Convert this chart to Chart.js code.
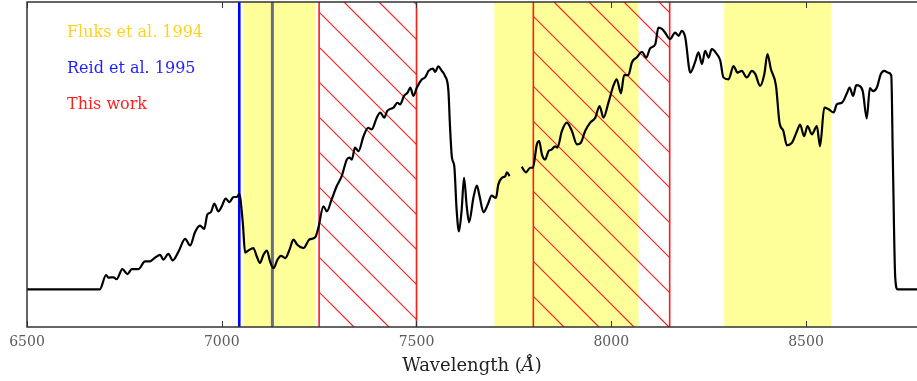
<!DOCTYPE html>
<html>
<head>
<meta charset="utf-8">
<script src="https://cdn.jsdelivr.net/npm/chart.js@4.4.1/dist/chart.umd.min.js"></script>
<style>
  body { margin: 0; background: #fff; }
  canvas { display: block; }
</style>
</head>
<body>
<canvas id="spectrumChart" width="917" height="381"></canvas>
<script>
// spectrum (null = gap in the data)
const wavelength = [
  6500, 6687, 6703, 6709, 6722, 6730, 6745, 6758, 6769, 6786,
  6803, 6816, 6824, 6833, 6842, 6850, 6863, 6874, 6889, 6906,
  6919, 6931, 6944, 6955, 6963, 6972, 6981, 6991, 7000, 7010,
  7020, 7030, 7039, 7045, 7054, 7060, 7068, 7081, 7090, 7098,
  7107, 7116, 7124, 7133, 7143, 7152, 7163, 7174, 7184, 7194,
  7210, 7225, 7240, 7248, 7261, 7270, 7282, 7295, 7308, 7321,
  7328, 7334, 7342, 7351, 7364, 7376, 7385, 7398, 7407, 7417,
  7425, 7441, 7451, 7458, 7468, 7477, 7484, 7492, 7501, 7514,
  7522, 7531, 7542, 7548, 7556, 7565, 7573, 7582, 7586, 7591,
  7597, 7603, 7609, 7616, 7622, 7629, 7635, 7646, 7655, 7662,
  7672, 7683, 7693, 7704, 7710, 7719, 7728, 7732, 7739, 7755,
  7770, 7781, 7792, 7799, 7809, 7815, 7822, 7830, 7839, 7847,
  7856, 7862, 7873, 7886, 7899, 7912, 7922, 7933, 7946, 7959,
  7970, 7980, 7993, 8006, 8014, 8025, 8033, 8044, 8053, 8066,
  8079, 8090, 8100, 8113, 8121, 8130, 8138, 8151, 8164, 8173,
  8181, 8190, 8203, 8215, 8224, 8233, 8241, 8250, 8258, 8271,
  8280, 8288, 8301, 8314, 8324, 8335, 8348, 8361, 8370, 8382,
  8393, 8401, 8410, 8423, 8432, 8442, 8451, 8464, 8477, 8485,
  8495, 8504, 8515, 8528, 8536, 8547, 8558, 8571, 8579, 8592,
  8605, 8612, 8621, 8629, 8637, 8646, 8656, 8664, 8672, 8682,
  8692, 8701, 8712, 8719, 8723, 8729, 8735, 8785
];
const flux = [
  0.116, 0.116, 0.160, 0.152, 0.153, 0.147, 0.178, 0.163, 0.178, 0.178,
  0.202, 0.202, 0.209, 0.217, 0.222, 0.207, 0.225, 0.205, 0.232, 0.271,
  0.251, 0.291, 0.312, 0.302, 0.346, 0.353, 0.380, 0.356, 0.371, 0.395,
  0.384, 0.400, 0.400, 0.410, 0.321, 0.229, 0.235, 0.243, 0.217, 0.197,
  0.222, 0.235, 0.202, 0.181, 0.207, 0.219, 0.212, 0.238, 0.269, 0.253,
  0.243, 0.269, 0.276, 0.305, 0.371, 0.356, 0.392, 0.433, 0.464, 0.515,
  0.521, 0.515, 0.552, 0.541, 0.587, 0.613, 0.608, 0.644, 0.660, 0.644,
  0.665, 0.675, 0.690, 0.685, 0.711, 0.721, 0.737, 0.711, 0.737, 0.762,
  0.768, 0.788, 0.795, 0.785, 0.802, 0.788, 0.773, 0.726, 0.618, 0.521,
  0.495, 0.361, 0.294, 0.361, 0.459, 0.371, 0.322, 0.397, 0.435, 0.402,
  0.353, 0.377, 0.404, 0.397, 0.438, 0.459, 0.464, 0.476, 0.464, null,
  0.493, 0.476, 0.490, 0.490, 0.562, 0.572, 0.531, 0.515, 0.541, 0.546,
  0.556, 0.552, 0.602, 0.629, 0.603, 0.562, 0.567, 0.603, 0.629, 0.644,
  0.680, 0.644, 0.691, 0.744, 0.762, 0.719, 0.775, 0.775, 0.814, 0.830,
  0.847, 0.829, 0.858, 0.870, 0.921, 0.917, 0.906, 0.886, 0.906, 0.896,
  0.911, 0.891, 0.783, 0.814, 0.845, 0.809, 0.850, 0.829, 0.855, 0.840,
  0.819, 0.768, 0.762, 0.803, 0.783, 0.788, 0.768, 0.788, 0.778, 0.742,
  0.778, 0.840, 0.793, 0.742, 0.629, 0.603, 0.559, 0.567, 0.603, 0.623,
  0.587, 0.618, 0.593, 0.618, 0.556, 0.675, 0.670, 0.660, 0.685, 0.690,
  0.719, 0.737, 0.711, 0.744, 0.742, 0.724, 0.642, 0.735, 0.726, 0.737,
  0.778, 0.788, 0.782, 0.773, 0.515, 0.155, 0.116, 0.116
];

const tickValues = [6500, 7000, 7500, 8000, 8500];

// wavelength windows
const fluksBands = [[7055, 7240], [7700, 8070], [8290, 8565]];
const thisWorkBands = [[7250, 7500], [7800, 8150]];
const reidLines = [7045];
const greyLines = [7130];

const legendLabels = ['Fluks et al. 1994', 'Reid et al. 1995', 'This work'];
const legendColors = ['#ffd21f', '#1f1fff', '#ff1f1f'];

const points = wavelength.map((w, i) => ({ x: w, y: flux[i] }));

const bandsPlugin = {
  id: 'bands',
  beforeDatasetsDraw(chart) {
    const { ctx, chartArea: { top, bottom }, scales: { x } } = chart;
    ctx.save();

    // yellow windows
    ctx.fillStyle = '#ffff99';
    fluksBands.forEach(([a, b]) => {
      const x0 = x.getPixelForValue(a);
      const x1 = x.getPixelForValue(b);
      ctx.fillRect(x0, top, x1 - x0, bottom - top);
    });

    // hatched windows
    thisWorkBands.forEach(([a, b]) => {
      const x0 = x.getPixelForValue(a);
      const x1 = x.getPixelForValue(b);
      ctx.save();
      ctx.beginPath();
      ctx.rect(x0, top, x1 - x0, bottom - top);
      ctx.clip();
      ctx.strokeStyle = '#ff1a1a';
      ctx.lineWidth = 1.2;
      const step = 35;
      let c = top - x1;
      c = c - (((c - 8) % step) + step) % step;
      for (; c <= bottom - x0 + step; c += step) {
        ctx.beginPath();
        ctx.moveTo(x0 - 5, x0 - 5 + c);
        ctx.lineTo(x1 + 5, x1 + 5 + c);
        ctx.stroke();
      }
      ctx.restore();
      ctx.strokeStyle = '#ff1a1a';
      ctx.lineWidth = 1.6;
      [x0, x1].forEach((px) => {
        ctx.beginPath();
        ctx.moveTo(px, top);
        ctx.lineTo(px, bottom);
        ctx.stroke();
      });
    });

    // single lines
    ctx.lineWidth = 2.6;
    ctx.strokeStyle = '#0000ff';
    reidLines.forEach((w) => {
      const px = x.getPixelForValue(w);
      ctx.beginPath();
      ctx.moveTo(px, top);
      ctx.lineTo(px, bottom);
      ctx.stroke();
    });
    ctx.lineWidth = 3;
    ctx.strokeStyle = '#6b6b8f';
    greyLines.forEach((w) => {
      const px = x.getPixelForValue(w);
      ctx.beginPath();
      ctx.moveTo(px, top);
      ctx.lineTo(px, bottom);
      ctx.stroke();
    });
    ctx.restore();
  },
  afterDraw(chart) {
    const { ctx, chartArea: { left, right, top, bottom }, scales: { x } } = chart;
    ctx.save();

    // frame (right side is cut off in the original)
    ctx.strokeStyle = '#333';
    ctx.lineWidth = 1.5;
    ctx.beginPath();
    ctx.moveTo(right, top);
    ctx.lineTo(left, top);
    ctx.lineTo(left, bottom);
    ctx.lineTo(right, bottom);
    ctx.stroke();

    // inward ticks, top and bottom
    ctx.lineWidth = 1;
    x.ticks.forEach((t) => {
      const px = Math.round(x.getPixelForValue(t.value)) + 0.5;
      ctx.beginPath();
      ctx.moveTo(px, bottom);
      ctx.lineTo(px, bottom - 6);
      ctx.moveTo(px, top);
      ctx.lineTo(px, top + 6);
      ctx.stroke();
    });

    // legend text
    ctx.font = '16px "DejaVu Serif"';
    ctx.textBaseline = 'alphabetic';
    ctx.textAlign = 'left';
    legendLabels.forEach((label, i) => {
      ctx.fillStyle = legendColors[i];
      ctx.fillText(label, left + 40, top + 35 + i * 36);
    });

    // axis title with italic A
    const parts = [
      ['Wavelength (', '18px "DejaVu Serif"'],
      ['Å', 'italic 18px "DejaVu Serif"'],
      [')', '18px "DejaVu Serif"'],
    ];
    let total = 0;
    parts.forEach(([s, f]) => { ctx.font = f; total += ctx.measureText(s).width; });
    let cx = (left + right) / 2 - total / 2;
    ctx.fillStyle = '#222';
    parts.forEach(([s, f]) => {
      ctx.font = f;
      ctx.fillText(s, cx, 371);
      cx += ctx.measureText(s).width;
    });
    ctx.restore();
  },
};

new Chart(document.getElementById('spectrumChart'), {
  type: 'line',
  data: {
    datasets: [
      {
        label: 'Spectrum',
        data: points,
        borderColor: '#000',
        borderWidth: 2.2,
        pointRadius: 0,
        cubicInterpolationMode: 'monotone',
        spanGaps: false,
      },
    ],
  },
  options: {
    responsive: false,
    animation: false,
    devicePixelRatio: 1,
    layout: {
      padding: { left: 27, right: 0, top: 2, bottom: 0 },
    },
    scales: {
      x: {
        type: 'linear',
        min: 6500,
        max: 8785,
        afterBuildTicks: (scale) => {
          scale.ticks = tickValues.map((v) => ({ value: v }));
        },
        afterFit: (scale) => {
          scale.height = 54;
        },
        grid: { display: false, drawTicks: false },
        border: { display: false },
        ticks: {
          padding: 7,
          color: '#5a5a5a',
          maxRotation: 0,
          autoSkip: false,
          font: { family: "'DejaVu Serif'", size: 14 },
          callback: (value) => String(value),
        },
      },
      y: {
        display: false,
        min: 0,
        max: 1,
      },
    },
    plugins: {
      legend: { display: false },
      tooltip: { enabled: false },
    },
  },
  plugins: [bandsPlugin],
});
</script>
</body>
</html>
